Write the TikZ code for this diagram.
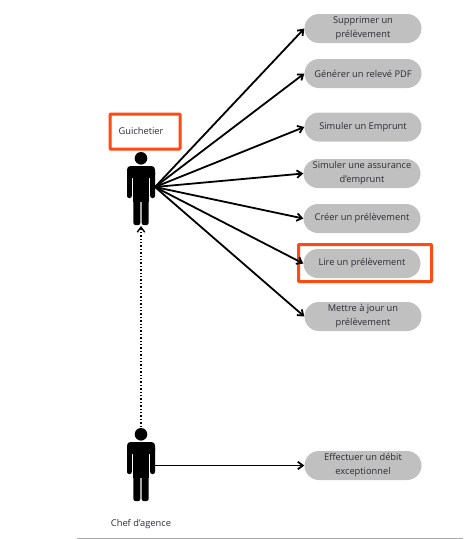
\documentclass[tikz,border=0pt]{standalone}
\usepackage{fontspec}
\setmainfont{Open Sans}
\usetikzlibrary{arrows.meta}
\definecolor{redbox}{HTML}{FF4A12}
\definecolor{pillgray}{HTML}{C1C0C0}
\definecolor{textgray}{HTML}{2B2B33}
\tikzset{
    usecase/.style={fill=pillgray, rounded corners=14.5pt, minimum width=117pt, minimum height=29pt,
        inner sep=0pt, align=center, font=\fontsize{9.3}{14}\selectfont, text=textgray},
    actorname/.style={font=\fontsize{9.3}{11}\selectfont, text=textgray},
    highlight/.style={draw=redbox, line width=3pt, rounded corners=0.8pt, inner sep=0pt},
    flow/.style={->, >={Straight Barb[length=5pt,width=7.5pt]}, line width=1.8pt},
    bonhomme/.pic={
        \fill (0,6.3) circle (6.3pt);
        \fill[rounded corners=3.5pt] (-14,14) rectangle (14,26);
        \fill[rounded corners=2pt] (-14,18) rectangle (-9.2,46);
        \fill[rounded corners=2pt] (9.2,18) rectangle (14,46);
        \fill (-7.6,20) rectangle (7.6,50);
        \fill[rounded corners=2pt] (-7.6,44) rectangle (-0.7,73);
        \fill[rounded corners=2pt] (0.7,44) rectangle (7.6,73);
    }
}

\begin{document}
\begin{tikzpicture}[x=1pt, y=-1pt]
    \useasboundingbox (0,0) rectangle (472,539);

    % cas d'utilisation
    \node[usecase] (supprimer) at (363,28.5) {Supprimer un\\prélèvement};
    \node[usecase] (releve) at (363,73.5) {Générer un relevé PDF};
    \node[usecase] (emprunt) at (363,127) {Simuler un Emprunt};
    \node[usecase] (assurance) at (362,173.5) {Simuler une assurance\\d'emprunt};
    \node[usecase] (creer) at (362,218.5) {Créer un prélèvement};
    \node[usecase] (lire) at (362,263.5) {Lire un prélèvement};
    \node[usecase] (maj) at (363,316.5) {Mettre à jour un\\prélèvement};
    \node[usecase] (debit) at (363,465.5) {Effectuer un débit\\exceptionnel};

    % acteurs
    \pic at (141,152) {bonhomme};
    \pic at (141,428) {bonhomme};
    \coordinate (guichetier) at (155,187);
    \coordinate (guichetierpieds) at (141,226);
    \coordinate (chef) at (155,465.5);
    \coordinate (chefhead) at (141,427);
    \node[actorname] (nomguichetier) at (141,131) {Guichetier};
    \node[actorname] (nomchef) at (141,524) {Chef d'agence};

    % cadres rouges
    \node[highlight, minimum width=70pt, minimum height=35pt] (cadreguichetier) at (145,131.5) {};
    \node[highlight, minimum width=133pt, minimum height=37pt] (cadrelire) at (365,263) {};

    \foreach \cas in {supprimer,releve,emprunt,assurance,creer,lire,maj}
        \draw[flow] (guichetier) -- (\cas.west);
    \draw[flow] (chef) -- (debit.west);
    \draw[flow, line width=1.4pt, dotted, line cap=butt] (chefhead) -- (guichetierpieds);

    % trait du bas
    \coordinate (basgauche) at (77,538);
    \coordinate (basdroite) at (463,538);
    \draw[gray!70, line width=0.8pt] (basgauche) -- (basdroite);
\end{tikzpicture}
\end{document}
